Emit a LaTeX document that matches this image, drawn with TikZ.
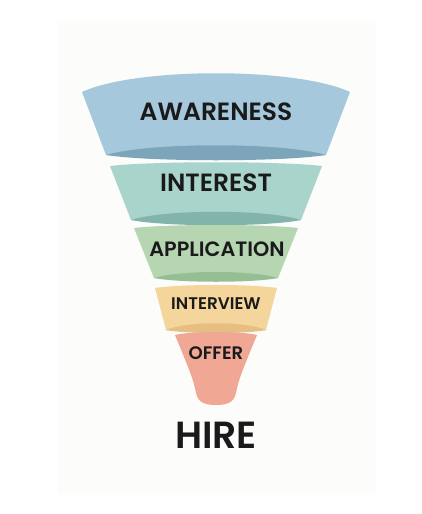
\documentclass[tikz,border=0pt]{standalone}
\usepackage{fontspec}
\usepackage{xcolor}
\usepackage{tikz}
\setmainfont{Poppins}[BoldFont={Poppins SemiBold}]

\definecolor{paper}{HTML}{FCFCFA}
\definecolor{ink}{HTML}{1A1A1A}
\definecolor{awa}{HTML}{A5C8DC}
\definecolor{awadark}{HTML}{7DA5B9}
\definecolor{intr}{HTML}{A8D4CC}
\definecolor{intrdark}{HTML}{82B4AC}
\definecolor{appl}{HTML}{B6D6B2}
\definecolor{appldark}{HTML}{96BE94}
\definecolor{intv}{HTML}{F4D69C}
\definecolor{intvdark}{HTML}{E6BE82}
\definecolor{offr}{HTML}{F0A894}

\begin{document}
\begin{tikzpicture}[x=0.02cm,y=-0.02cm,
  stage/.style={text=ink,font=\bfseries,inner sep=0pt}]
\useasboundingbox (0,0) rectangle (422,514);
\fill[white] (0,0) rectangle (422,514);
\fill[paper] (57,21) rectangle (376,495);
% awareness
\fill[awa] (82,92) .. controls (136,67) and (296,67) .. (350,92) -- (326,155) -- (106,155) -- cycle;
\fill[awadark] (106,155) .. controls (150,142) and (282,142) .. (326,155) .. controls (282,162) and (150,162) .. (106,155) -- cycle;
% interest
\fill[intr] (110,166) .. controls (152,161) and (280,161) .. (322,166) -- (301,220) -- (131,220) -- cycle;
\fill[intrdark] (131,220) .. controls (165,209) and (267,209) .. (301,220) .. controls (267,227) and (165,227) .. (131,220) -- cycle;
% application
\fill[appl] (134,228) .. controls (167,224) and (265,224) .. (298,228) -- (278,278) -- (154,278) -- cycle;
\fill[appldark] (154,278) .. controls (179,270) and (253,270) .. (278,278) .. controls (253,283) and (179,283) .. (154,278) -- cycle;
% interview
\fill[intv] (155,288) .. controls (179,284) and (253,284) .. (277,288) -- (266,330) -- (166,330) -- cycle;
\fill[intvdark] (166,330) .. controls (186,321) and (246,321) .. (266,330) .. controls (246,334) and (186,334) .. (166,330) -- cycle;
% offer
\fill[offr] (175,335) .. controls (191,331) and (241,331) .. (257,335) .. controls (246,362) and (238,380) .. (236,393) .. controls (234,403) and (226,405) .. (216,405) .. controls (206,405) and (198,403) .. (196,393) .. controls (194,380) and (186,362) .. (175,335) -- cycle;

\node[stage,font=\bfseries\fontsize{14.2}{16}\selectfont] (awareness) at (216,112) {AWARENESS};
\node[stage,font=\bfseries\fontsize{14.2}{16}\selectfont] (interest) at (216,183) {INTEREST};
\node[stage,font=\bfseries\fontsize{11.8}{14}\selectfont] (application) at (217,249) {APPLICATION};
\node[stage,font=\bfseries\fontsize{9.6}{11}\selectfont] (interview) at (216,304) {INTERVIEW};
\node[stage,font=\bfseries\fontsize{10.3}{12}\selectfont] (offer) at (216,353) {OFFER};
\node[stage,font=\bfseries\fontsize{21.5}{24}\selectfont] (hire) at (216,435) {HIRE};
\end{tikzpicture}
\end{document}
